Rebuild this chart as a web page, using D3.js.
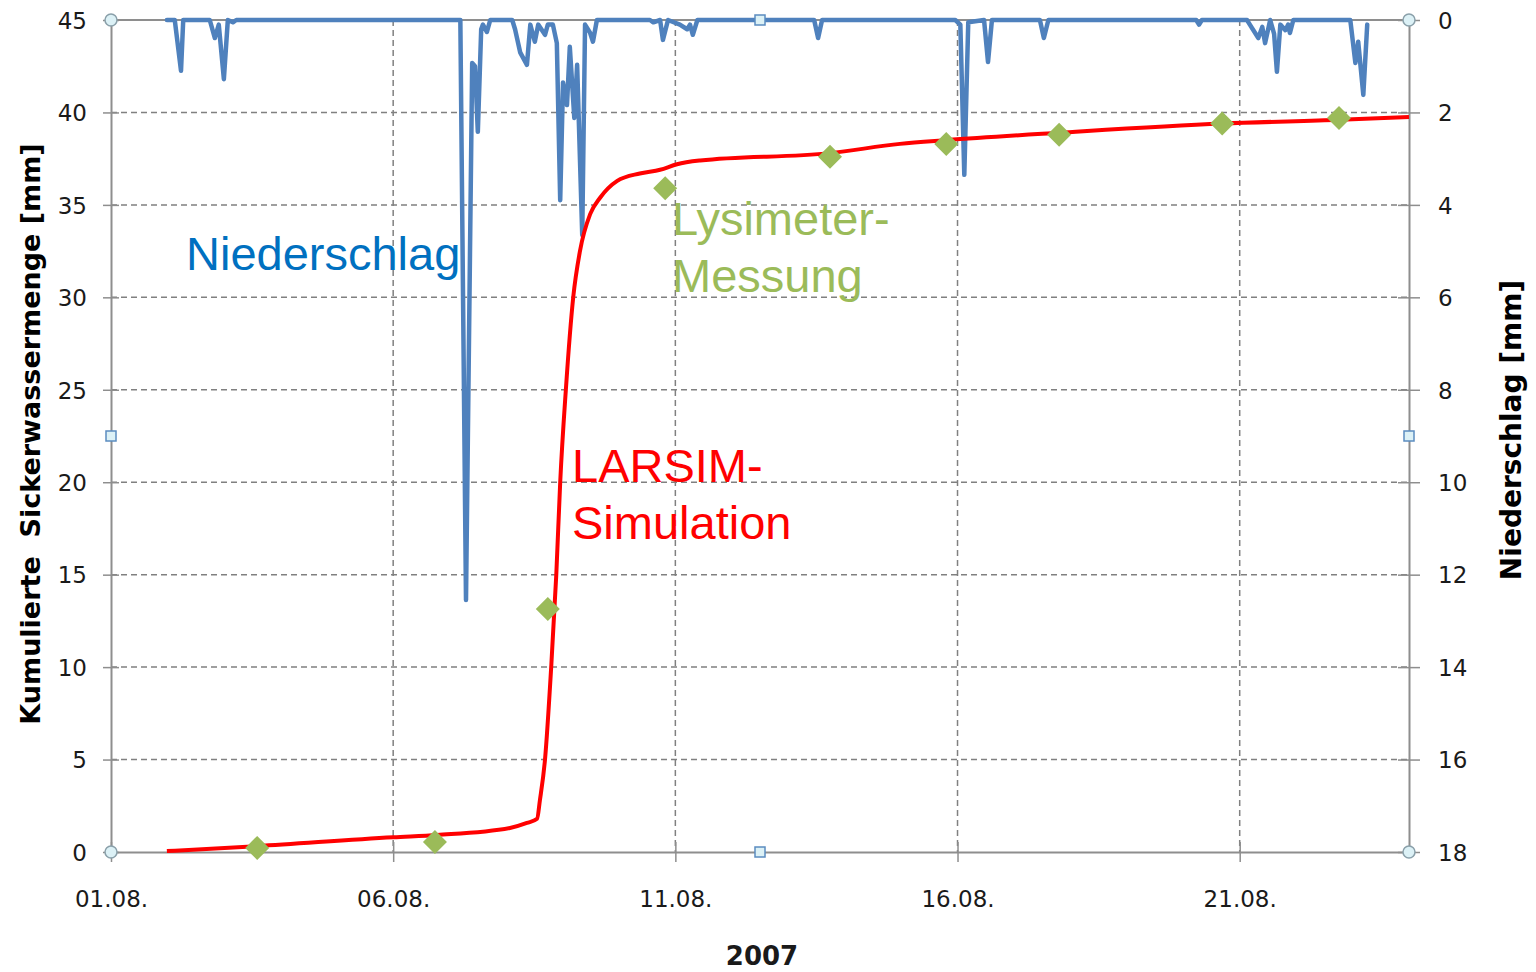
<!doctype html>
<html>
<head>
<meta charset="utf-8">
<script src="https://d3js.org/d3.v7.min.js"></script>
<style>
body { margin: 0; background: #fff; }
</style>
</head>
<body>
<svg width="1536" height="972"></svg>
<script>
// day of August 2007 (decimal, 1.0 = 01.08. 00:00), precipitation in mm
var niederschlag = [
  [1.99,0],[2.13,0],[2.24,1.10],[2.28,0],[2.75,0],[2.84,0.39],[2.91,0.1],[3.00,1.28],[3.07,0],[3.16,0.05],[3.22,0],
  [7.19,0],[7.29,12.55],[7.40,0.93],[7.45,1.0],[7.50,2.42],[7.56,0.2],[7.59,0.1],[7.66,0.26],[7.72,0],
  [8.11,0],[8.16,0.2],[8.25,0.7],[8.37,0.97],[8.43,0.1],[8.51,0.47],[8.57,0.1],[8.69,0.32],[8.74,0.1],[8.83,0.1],
  [8.90,0.5],[8.96,3.9],[9.01,1.35],[9.08,1.84],[9.13,0.58],[9.21,2.12],[9.26,0.97],[9.35,4.65],[9.40,0.1],
  [9.49,0.28],[9.54,0.47],[9.61,0],
  [10.55,0],[10.61,0.05],[10.73,0],[10.78,0.43],[10.87,0],[11.08,0.1],[11.21,0.2],[11.26,0.1],[11.31,0.32],[11.39,0],
  [13.46,0],[13.53,0.39],[13.60,0],
  [15.96,0],[16.05,0.1],[16.12,3.35],[16.19,0.05],[16.47,0],[16.54,0.91],[16.61,0],
  [17.46,0],[17.53,0.39],[17.61,0],
  [20.23,0],[20.28,0.1],[20.33,0],
  [21.13,0],[21.18,0.1],[21.33,0.39],[21.40,0.15],[21.45,0.5],[21.54,0],[21.61,0.3],[21.66,1.12],[21.72,0.1],
  [21.81,0.22],[21.86,0.1],[21.89,0.28],[21.95,0],
  [22.96,0],[23.05,0.93],[23.10,0.47],[23.19,1.62],[23.26,0.1]
];

// LARSIM simulation, cumulative seepage in mm
var simulation = [
  [1.99,0.05],[3.59,0.32],[6.00,0.8],[6.78,0.92],[8.07,1.3],[8.37,1.57],[8.55,1.8],[8.60,2.8],[8.69,5],
  [8.80,10],[8.89,15],[8.96,20],[9.06,25],[9.19,30],[9.31,32.5],[9.49,34.5],[9.67,35.4],[9.97,36.3],
  [10.37,36.7],[10.73,36.9],[11.03,37.2],[11.44,37.4],[13.74,37.8],[14.98,38.3],[15.80,38.5],
  [17.80,38.9],[20.69,39.4],[22.78,39.6],[24.00,39.75]
];

// lysimeter measurement, cumulative seepage in mm
var lysimeter = [
  [3.59,0.22],[6.74,0.54],[8.74,13.14],[10.82,35.9],[13.74,37.6],[15.80,38.3],[17.80,38.8],[20.69,39.4],[22.76,39.7]
];

var tickDays = [1, 6, 11, 16, 21];
var leftTicks = [0, 5, 10, 15, 20, 25, 30, 35, 40, 45];
var rightTicks = [0, 2, 4, 6, 8, 10, 12, 14, 16, 18];

var svg = d3.select("svg"),
    margin = {top: 20, right: 127, bottom: 120, left: 111},
    width = +svg.attr("width") - margin.left - margin.right,
    height = +svg.attr("height") - margin.top - margin.bottom;

var toDate = (d) => d3.timeMinute.offset(new Date(2007, 7, 1), Math.round((d - 1) * 1440));

var x = d3.scaleTime().domain([toDate(1), toDate(24)]).range([0, width]);
var yL = d3.scaleLinear().domain([0, 45]).range([height, 0]);
var yR = d3.scaleLinear().domain([0, 18]).range([0, height]);

var g = svg.append("g").attr("transform", `translate(${margin.left},${margin.top})`);

var gridColor = "#808080";

// grid
g.append("g").selectAll("line")
  .data(leftTicks.filter((v) => v > 0 && v < 45)).enter()
  .append("line")
    .attr("x1", 0).attr("x2", width)
    .attr("y1", (d) => yL(d)).attr("y2", (d) => yL(d))
    .style("stroke", gridColor).style("stroke-dasharray", "6,4").style("stroke-width", 1.5);
g.append("g").selectAll("line")
  .data(tickDays.slice(1)).enter()
  .append("line")
    .attr("x1", (d) => x(toDate(d))).attr("x2", (d) => x(toDate(d)))
    .attr("y1", 0).attr("y2", height)
    .style("stroke", gridColor).style("stroke-dasharray", "6,4").style("stroke-width", 1.5);

// axes
var axisColor = "#8e8e8e";
var tickFont = "DejaVu Sans, sans-serif";

var left = g.append("g")
  .call(d3.axisLeft(yL).tickValues(leftTicks).tickSize(8).tickPadding(16).tickSizeOuter(0));
left.selectAll(".tick line").attr("x2", -8).attr("x1", 8);

var right = g.append("g").attr("transform", `translate(${width},0)`)
  .call(d3.axisRight(yR).tickValues(rightTicks).tickSize(11).tickPadding(18).tickSizeOuter(0));
right.selectAll(".tick line").attr("x1", -11);

var bottom = g.append("g").attr("transform", `translate(0,${height})`)
  .call(d3.axisBottom(x).tickValues(tickDays.map(toDate)).tickFormat(d3.timeFormat("%d.%m."))
        .tickSize(10).tickPadding(29).tickSizeOuter(0));
bottom.selectAll(".tick line").attr("y1", -10);

[left, right, bottom].forEach((a) => {
  a.select(".domain").style("stroke", axisColor).style("stroke-width", 2);
  a.selectAll(".tick line").style("stroke", axisColor).style("stroke-width", 1.5);
  a.selectAll(".tick text").style("font-family", tickFont).style("font-size", "23px").style("fill", "#1a1a1a");
});
left.selectAll(".tick text").attr("dy", "0.36em");
right.selectAll(".tick text").attr("dy", "0.36em");

// top frame
g.append("line").attr("x1", 0).attr("x2", width).attr("y1", 0).attr("y2", 0)
  .style("stroke", axisColor).style("stroke-width", 2);

// precipitation (hanging from the top)
var pLine = d3.line().x((d) => x(toDate(d[0]))).y((d) => yR(d[1]));
g.append("path").datum(niederschlag)
  .attr("d", pLine)
  .style("fill", "none").style("stroke", "#4f81bd").style("stroke-width", 4.5)
  .style("stroke-linejoin", "round").style("stroke-linecap", "round");

// simulation
var sLine = d3.line().x((d) => x(toDate(d[0]))).y((d) => yL(d[1])).curve(d3.curveMonotoneX);
g.append("path").datum(simulation)
  .attr("d", sLine)
  .style("fill", "none").style("stroke", "#ff0000").style("stroke-width", 4);

// lysimeter diamonds
g.append("g").selectAll("path")
  .data(lysimeter).enter()
  .append("path")
    .attr("transform", (d) => `translate(${x(toDate(d[0]))},${yL(d[1])})`)
    .attr("d", "M0,-12L12,0L0,12L-12,0Z")
    .style("fill", "#9bbb59");

// selection handles of the chart area
var handles = [[0, 0, "c"], [width, 0, "c"], [0, height, "c"], [width, height, "c"],
               [width / 2, 0, "s"], [width / 2, height, "s"], [0, height / 2, "s"], [width, height / 2, "s"]];
handles.forEach((h) => {
  if (h[2] === "c") {
    g.append("circle").attr("cx", h[0]).attr("cy", h[1]).attr("r", 6)
      .style("fill", "#dcf1f6").style("stroke", "#8aa0aa").style("stroke-width", 1.5);
  } else {
    g.append("rect").attr("x", h[0] - 5).attr("y", h[1] - 5).attr("width", 10).attr("height", 10)
      .style("fill", "#dcf1f6").style("stroke", "#5b8cc0").style("stroke-width", 1.5);
  }
});

// series labels
var annFont = "Liberation Sans, Arial, sans-serif";
function label(lines, xPos, yPos, color) {
  var t = svg.append("text").attr("x", xPos).attr("y", yPos)
    .style("font-family", annFont).style("font-size", "47px").style("fill", color);
  lines.forEach((l, i) => t.append("tspan").attr("x", xPos).attr("dy", i ? 57 : 0).text(l));
}
label(["Niederschlag"], 186, 270, "#0070c0");
label(["Lysimeter-", "Messung"], 672, 235, "#9bbb59");
label(["LARSIM-", "Simulation"], 572, 482, "#ff0000");

// axis titles
svg.append("text")
  .attr("transform", "translate(40,434) rotate(-90)")
  .attr("text-anchor", "middle")
  .style("font-family", tickFont).style("font-weight", "bold").style("font-size", "27px").style("fill", "#000")
  .style("white-space", "pre")
  .text("Kumulierte  Sickerwassermenge [mm]");
svg.append("text")
  .attr("transform", "translate(1521,430) rotate(-90)")
  .attr("text-anchor", "middle")
  .style("font-family", tickFont).style("font-weight", "bold").style("font-size", "28px").style("fill", "#000")
  .text("Niederschlag [mm]");
svg.append("text")
  .attr("x", 762).attr("y", 965)
  .attr("text-anchor", "middle")
  .style("font-family", tickFont).style("font-weight", "bold").style("font-size", "26px").style("fill", "#1a1a1a")
  .text("2007");
</script>
</body>
</html>
